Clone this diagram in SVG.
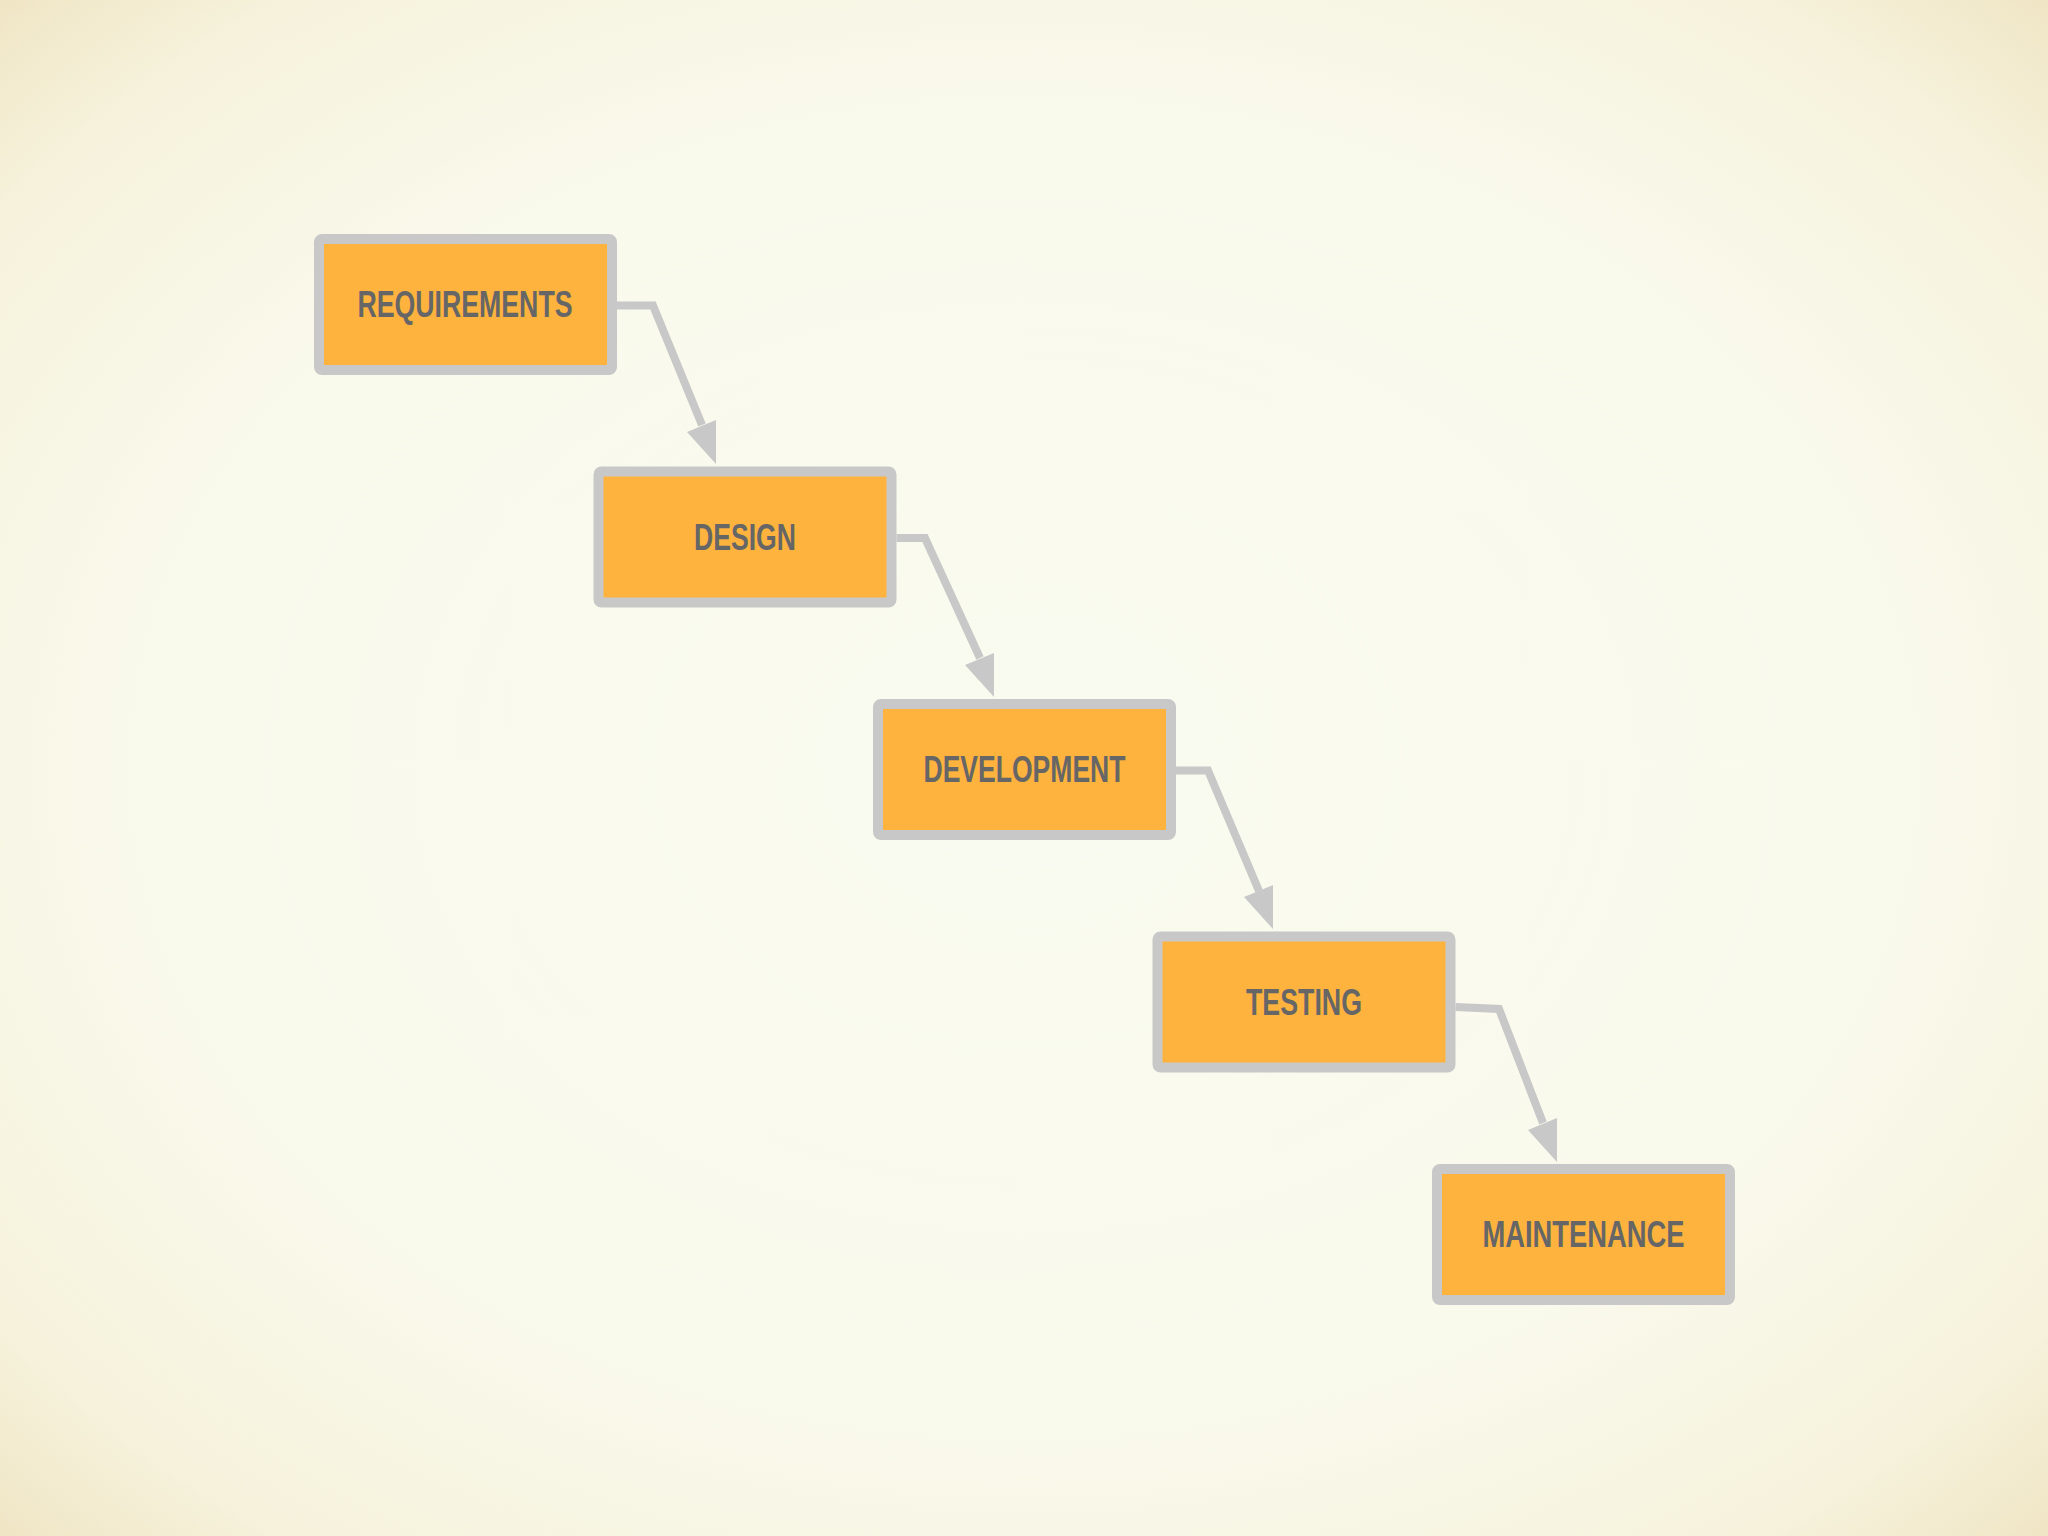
<svg xmlns="http://www.w3.org/2000/svg" width="2048" height="1536" viewBox="0 0 2048 1536">
<defs>
<radialGradient id="bg" cx="50%" cy="50%" r="72%">
<stop offset="0" stop-color="#fafbf0"/>
<stop offset="0.6" stop-color="#f9f9ec"/>
<stop offset="0.85" stop-color="#f6f2dc"/>
<stop offset="1" stop-color="#efe4c2"/>
</radialGradient>
<style>
.box{fill:#feb33f;stroke:#c8c8c8;stroke-width:10;}
.lbl{font-family:"Liberation Sans","Arial",sans-serif;font-weight:bold;font-size:37px;fill:#666666;text-anchor:middle;}
.con{fill:none;stroke:#c8c8c8;stroke-width:8;stroke-linejoin:miter;}
.head{fill:#c8c8c8;}
</style>
</defs>
<rect x="0" y="0" width="2048" height="1536" fill="url(#bg)"/>
<g id="connectors">
<path class="con" d="M617 305.5 L653 305.5 L702 425"/>
<polygon class="head" points="716,464 716,420 687,432"/>
<path class="con" d="M896.5 538 L925 538 L980 658"/>
<polygon class="head" points="994,697 994,653 965,665"/>
<path class="con" d="M1176 770.5 L1208 770.5 L1259 891"/>
<polygon class="head" points="1273,929 1273,885 1244,897"/>
<path class="con" d="M1455.5 1007 L1499 1009 L1543 1123"/>
<polygon class="head" points="1557,1162 1557,1118 1528,1130"/>
</g>
<g id="requirements">
<rect class="box" x="319" y="239" width="293" height="131" rx="3"/>
<text class="lbl" x="465" y="317" textLength="215" lengthAdjust="spacingAndGlyphs">REQUIREMENTS</text>
</g>
<g id="design">
<rect class="box" x="598.5" y="471.5" width="293" height="131" rx="3"/>
<text class="lbl" x="745" y="549.5" textLength="102" lengthAdjust="spacingAndGlyphs">DESIGN</text>
</g>
<g id="development">
<rect class="box" x="878" y="704" width="293" height="131" rx="3"/>
<text class="lbl" x="1024.5" y="782" textLength="202" lengthAdjust="spacingAndGlyphs">DEVELOPMENT</text>
</g>
<g id="testing">
<rect class="box" x="1157.5" y="936.5" width="293" height="131" rx="3"/>
<text class="lbl" x="1304" y="1014.5" textLength="116" lengthAdjust="spacingAndGlyphs">TESTING</text>
</g>
<g id="maintenance">
<rect class="box" x="1437" y="1169" width="293" height="131" rx="3"/>
<text class="lbl" x="1583.5" y="1247" textLength="202" lengthAdjust="spacingAndGlyphs">MAINTENANCE</text>
</g>
</svg>
